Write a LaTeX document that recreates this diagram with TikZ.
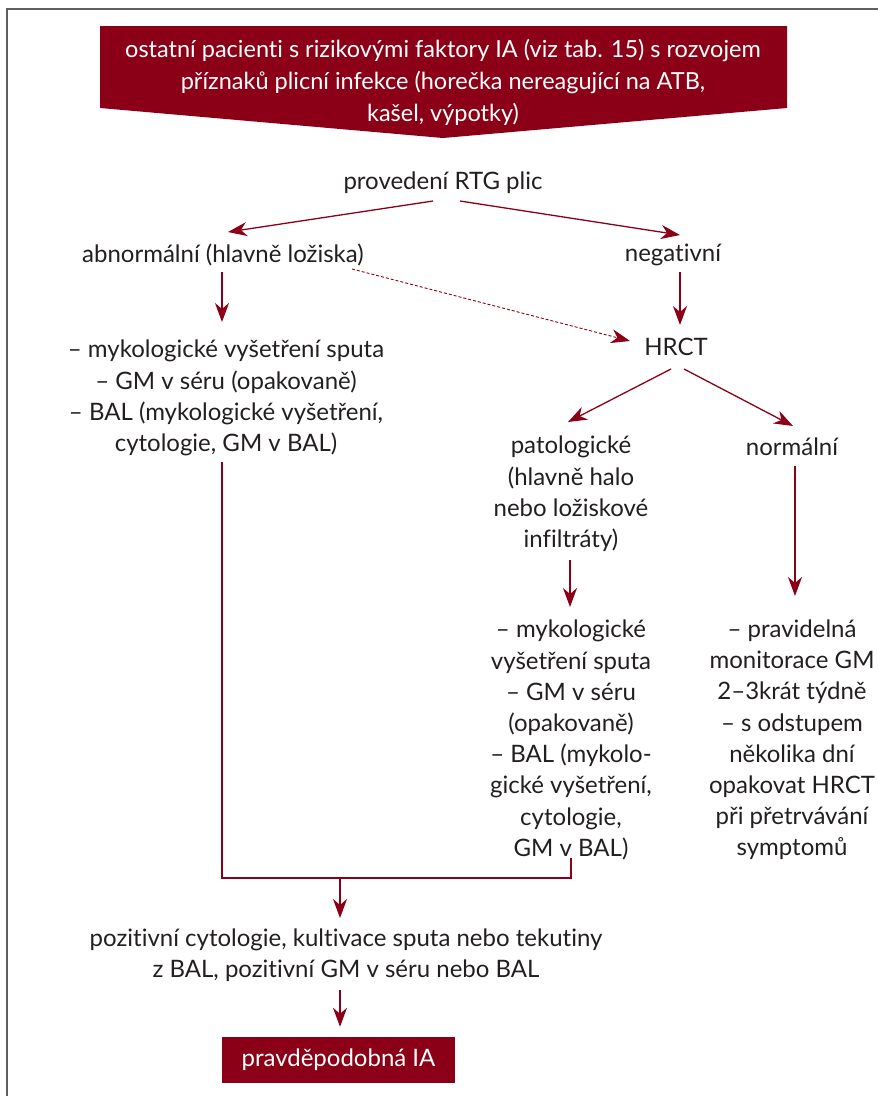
\documentclass[tikz,border=0pt]{standalone}
\usepackage{fontspec}
\setmainfont{Lato}[Ligatures=NoCommon]
\usetikzlibrary{arrows.meta,calc}
\definecolor{wine}{RGB}{139,0,22}
\definecolor{ink}{RGB}{35,31,32}
\definecolor{framegray}{RGB}{95,95,95}
\begin{document}
\begin{tikzpicture}[x=1pt,y=-1pt,
  txt/.style={text=ink, font=\fontsize{24}{31.2}\selectfont, align=center, inner sep=0pt},
  arr/.style={draw=wine, line width=1.3pt, -{Stealth[length=19pt,width=14pt,inset=6pt]}},
  ln/.style={draw=wine, line width=1.3pt},
  dsh/.style={draw=wine, line width=0.9pt, dash pattern=on 3pt off 2pt, -{Stealth[length=19pt,width=14pt,inset=6pt]}},
  banner/.style={fill=wine}]
\useasboundingbox (0,0) rectangle (878,1096);
\draw[framegray, line width=1.5pt] (878,9) -- (7,9) -- (7,1096);
\fill[banner] (100,26) -- (787,26) -- (787,108) -- (443,138) -- (100,108) -- cycle;
\node[txt, text=white, font=\fontsize{23.5}{32}\selectfont] (top) at (443,82) {ostatní pacienti s rizikovými faktory IA (viz tab. 15) s rozvojem\\ příznaků plicní infekce (horečka nereagující na ATB,\\ kašel, výpotky)};
\node[txt] (rtg) at (443,183) {provedení RTG plic};
\node[txt] (abn) at (223,255) {abnormální (hlavně ložiska)};
\node[txt] (neg) at (673,255) {negativní};
\node[txt] (hrct) at (676,347) {HRCT};
\node[txt] (l1) at (226,398) {– mykologické vyšetření sputa\\– GM v séru (opakovaně)\\– BAL (mykologické vyšetření,\\cytologie, GM v BAL)};
\node[txt] (pat) at (571,494) {patologické\\(hlavně halo\\nebo ložiskové\\infiltráty)};
\node[txt] (norm) at (792,447) {normální};
\node[txt] (l2) at (571,740) {– mykologické\\vyšetření sputa\\– GM v séru\\(opakovaně)\\– BAL (mykolo-\\gické vyšetření,\\cytologie,\\GM v BAL)};
\node[txt] (l3) at (792,740) {– pravidelná\\monitorace GM\\2–3krát týdně\\– s odstupem\\několika dní\\opakovat HRCT\\při přetrvávání\\symptomů};
\node[txt] (pos) at (346,955) {pozitivní cytologie, kultivace sputa nebo tekutiny\\z BAL, pozitivní GM v séru nebo BAL};
\node[fill=wine, text=white, font=\fontsize{24}{31}\selectfont, minimum width=233pt, minimum height=46pt, inner sep=0pt] (ia) at (338.5,1060) {pravděpodobná IA};
\draw[arr] ($(rtg)+(-10,18)$) -- ($(abn)+(5,-23)$);
\draw[arr] ($(rtg)+(17,18)$) -- ($(neg)+(7,-20)$);
\draw[arr] ($(abn)+(-1,17)$) -- ($(l1)+(-4,-76)$);
\draw[arr] ($(neg)+(7,17)$) -- ($(hrct)+(4,-22)$);
\draw[dsh] ($(abn)+(129,14)$) -- ($(hrct)+(-46,-6)$);
\draw[arr] ($(hrct)+(-5,22)$) -- ($(pat)+(-3,-72)$);
\draw[arr] ($(hrct)+(8,22)$) -- ($(norm)+(1,-21)$);
\draw[arr] ($(pat)+(-1,66)$) -- ($(l2)+(-1,-133)$);
\draw[arr] ($(norm)+(3,19)$) -- ($(l3)+(3,-144)$);
\coordinate (j) at (340,878);
\draw[ln] ($(l1)+(-4,64)$) |- ($(l2)+(0,138)$) -- ($(l2)+(0,118)$);
\draw[arr] (j) -- ($(pos)+(-6,-37)$);
\draw[arr] ($(pos)+(-6,35)$) -- ($(ia.north)+(1.5,-10)$);
\end{tikzpicture}
\end{document}
